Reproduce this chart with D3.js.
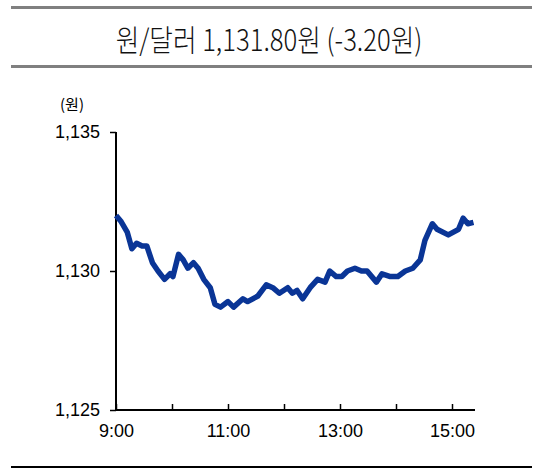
<!DOCTYPE html>
<html><head><meta charset="utf-8">
<script src="https://d3js.org/d3.v7.min.js"></script>
<style>body{margin:0;background:#fff}</style></head>
<body><svg id="c" width="538" height="476"></svg>
<script>
const titleText = "원/달러 1,131.80원 (-3.20원)";
const unitLabel = "(원)";
const yTicks = [1125, 1130, 1135];
const xTickLabels = ["9:00", "11:00", "13:00", "15:00"];
const xTickMinutes = [0, 120, 240, 360];
const xMinorMinutes = [60, 180, 300];
const minutes = [0,5,12,17,22,28,33,39,45,52,58,61,67,72,77,83,88,94,101,106,112,120,126,136,141,152,161,168,175,184,189,194,200,208,216,224,229,236,242,248,256,263,269,279,285,294,302,310,318,326,331,339,344,356,367,372,377,383];
const values = [1132.0,1131.8,1131.4,1130.8,1131.0,1130.9,1130.9,1130.3,1130.0,1129.7,1129.9,1129.8,1130.6,1130.4,1130.1,1130.3,1130.1,1129.7,1129.4,1128.8,1128.7,1128.9,1128.7,1129.0,1128.9,1129.1,1129.5,1129.4,1129.2,1129.4,1129.2,1129.3,1129.0,1129.4,1129.7,1129.6,1130.0,1129.8,1129.8,1130.0,1130.1,1130.0,1130.0,1129.6,1129.9,1129.8,1129.8,1130.0,1130.1,1130.4,1131.1,1131.7,1131.5,1131.3,1131.5,1131.9,1131.7,1131.75];

const svg = d3.select("#c");
const x = d3.scaleLinear().domain([0,390]).range([116,480]);
const y = d3.scaleLinear().domain([1125,1135]).range([410,132]);

svg.append("rect").attr("x",11).attr("y",6).attr("width",521).attr("height",3).attr("fill","#808080");
svg.append("rect").attr("x",11).attr("y",65).attr("width",521).attr("height",3).attr("fill","#808080");
svg.append("rect").attr("x",11).attr("y",466).attr("width",521).attr("height",2).attr("fill","#000");
svg.append("text").attr("x",269).attr("y",51).attr("text-anchor","middle")
  .attr("font-family","'Noto Sans CJK KR'").attr("font-size",27).attr("font-weight",300)
  .attr("transform","translate(269,51) scale(0.95,1.1) translate(-269,-51)")
  .attr("fill","#111").text(titleText);
svg.append("text").attr("x",72).attr("y",110).attr("text-anchor","middle")
  .attr("font-family","'Noto Sans CJK KR'").attr("font-size",15).text(unitLabel);

const ya = d3.axisLeft(y).tickValues(yTicks).tickSize(6).tickFormat(d3.format(","));
const yg = svg.append("g").attr("transform","translate(116,0)").call(ya);
yg.select(".domain").attr("stroke-width",2).attr("d","M0,132V410");
yg.selectAll(".tick line").attr("stroke-width",1.5);
yg.selectAll("text").attr("font-family","'Liberation Sans Narrow','Liberation Sans'").attr("font-size",18).attr("x",-16).attr("fill","#000");

const xa = d3.axisBottom(x).tickValues(xTickMinutes.concat(xMinorMinutes)).tickSize(6)
  .tickFormat(d => { const i = xTickMinutes.indexOf(d); return i>=0 ? xTickLabels[i] : ""; });
const xg = svg.append("g").attr("transform","translate(0,410)").call(xa);
xg.select(".domain").attr("stroke-width",2).attr("d","M116,0H475");
xg.selectAll(".tick line").attr("y2",-6).attr("stroke-width",1.5);
xg.selectAll("text").attr("font-family","'Liberation Sans Narrow','Liberation Sans'").attr("font-size",18).attr("y",14).attr("fill","#000");

svg.append("path").datum(minutes.map((m,i)=>[m,values[i]]))
  .attr("fill","none").attr("stroke","#0a3596").attr("stroke-width",5.5).attr("stroke-linejoin","round")
  .attr("d", d3.line().x(d=>x(d[0])).y(d=>y(d[1])));
</script></body></html>
